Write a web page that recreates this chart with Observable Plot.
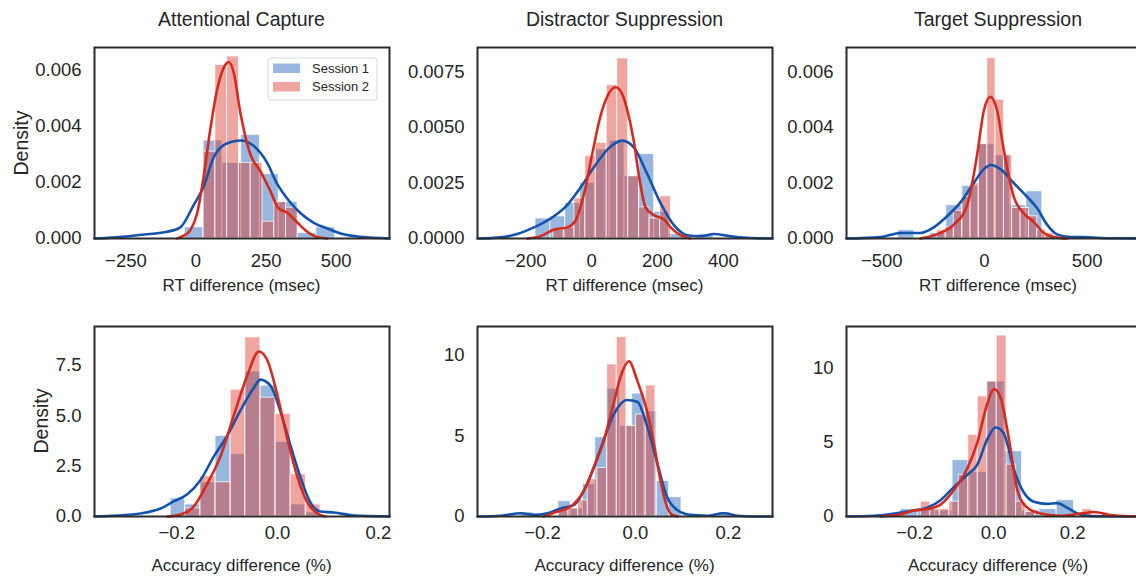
<!DOCTYPE html>
<html><head><meta charset="utf-8">
<script src="https://cdn.jsdelivr.net/npm/d3@7"></script>
<script src="https://cdn.jsdelivr.net/npm/@observablehq/plot@0.6"></script>
<style>
html,body{margin:0;padding:0;background:#fff;overflow:hidden;}
#root{position:relative;width:1136px;height:582px;overflow:hidden;font-family:"Liberation Sans",Arial,sans-serif;color:#262626;}
.pan{position:absolute;}
#ov{position:absolute;left:0;top:0;pointer-events:none;}
</style></head><body><div id="root"></div>
<script>
// ---------- text ----------
const titles = ["Attentional Capture", "Distractor Suppression", "Target Suppression"];
const xLabels = ["RT difference (msec)", "Accuracy difference (%)"];
const yLabel = "Density";
const seriesNames = ["Session 1", "Session 2"];

// ---------- Attentional Capture, RT ----------
const acRtS1Edges = [-40, 27, 94, 161, 228, 295, 362, 429, 496];
const acRtS1Dens = [0.0004, 0.0035, 0.0027, 0.0037, 0.0023, 0.0013, 0.0002, 0.0004];
const acRtS2Edges = [27, 69, 111, 153, 195, 237, 279, 321, 363];
const acRtS2Dens = [0.0031, 0.0062, 0.0065, 0.0027, 0.0027, 0.0006, 0.0013, 0.0011];
const acRtS1KdeX = [-362,-300,-240,-175,-104,-56,-8,27,63,111,158,206,254,289,325,373,420,468,515,587,690];
const acRtS1KdeY = [0,0.00003,0.00008,0.00015,0.00024,0.0004,0.0012,0.00185,0.0029,0.0034,0.0035,0.0033,0.0027,0.00196,0.00143,0.0009,0.00056,0.00036,0.00018,0.00006,0];
const acRtS2KdeX = [-68,-44,-20,4,27,51,75,99,117,135,158,194,230,265,295,325,361,396,432,468];
const acRtS2KdeY = [0,0.0001,0.0003,0.0009,0.0022,0.0039,0.0053,0.0061,0.0063,0.0059,0.0045,0.003,0.0024,0.0017,0.00107,0.00092,0.00057,0.00025,0.00005,0];

// ---------- Distractor Suppression, RT ----------
const dsRtS1Edges = [-170,-125,-80,-35,10,55,100,145,190,235,280,325,370];
const dsRtS1Dens = [0.0009,0.001,0.0016,0.0025,0.004,0.0044,0.0028,0.0038,0.0012,0.0002,0,0.0002];
const dsRtS2Edges = [-116,-84,-52,-19,13,46,78,111,144,176,208,241];
const dsRtS2Dens = [0.0004,0.0005,0.0018,0.0037,0.0043,0.0069,0.0081,0.0028,0.0014,0.0009,0.0019];
const dsRtS1KdeX = [-346,-276,-226,-175,-124,-74,-33,7,48,93,128,169,209,250,290,331,371,422,483,549];
const dsRtS1KdeY = [0,0.00005,0.0002,0.0005,0.0009,0.0015,0.0023,0.0032,0.004,0.0044,0.0041,0.0029,0.0016,0.0006,0.00015,0.0001,0.0002,0.0001,0.00002,0];
const dsRtS2KdeX = [-195,-155,-114,-74,-49,-23,2,27,48,73,93,108,128,144,164,189,220,240,270,300];
const dsRtS2KdeY = [0,0.0001,0.0004,0.0005,0.0008,0.002,0.0038,0.0055,0.0064,0.0068,0.0065,0.0058,0.0044,0.0028,0.0014,0.00105,0.00085,0.0005,0.00015,0];

// ---------- Target Suppression, RT ----------
const tsRtS1Edges = [-420,-342,-264,-186,-108,-30,48,126,204,282,360];
const tsRtS1Dens = [0.0003,0,0.0002,0.0012,0.0019,0.0034,0.003,0.0012,0.0017,0.0001];
const tsRtS2Edges = [-230,-189,-149,-108,-68,-27,14,54,95,135,176,217,257,298,338];
const tsRtS2Dens = [0.0003,0.0004,0.001,0.0015,0.002,0.0034,0.0065,0.005,0.003,0.0011,0.0011,0.0008,0.0003,0.0002];
const tsRtS1KdeX = [-672,-506,-409,-312,-247,-182,-117,-52,-3,32,78,143,208,256,305,354,419,484,565,809];
const tsRtS1KdeY = [0,0.00005,0.0002,0.0002,0.0004,0.0008,0.0013,0.002,0.0025,0.00265,0.0025,0.002,0.0015,0.0011,0.0005,0.00015,0.00005,0.00005,0.00002,0];
const tsRtS2KdeX = [-312,-214,-149,-84,-36,-3,29,62,94,143,192,240,289,338,403];
const tsRtS2KdeY = [0,0.0002,0.0005,0.0012,0.003,0.0046,0.0051,0.0046,0.0032,0.0015,0.0009,0.0006,0.0002,0.00005,0];

// ---------- Attentional Capture, accuracy ----------
const acAccS1Edges = [-0.212,-0.183,-0.153,-0.123,-0.093,-0.064,-0.034,-0.004,0.026,0.056,0.085];
const acAccS1Dens = [0.9,0.6,1.7,4.0,3.1,7.2,6.5,3.7,0.6,0.2];
const acAccS2Edges = [-0.183,-0.153,-0.123,-0.093,-0.064,-0.034,-0.004,0.026,0.056,0.085];
const acAccS2Dens = [0.4,2.0,1.7,6.3,8.9,5.9,5.1,2.1,0.6];
const acAccS1KdeX = [-0.363,-0.318,-0.272,-0.232,-0.206,-0.179,-0.153,-0.126,-0.1,-0.073,-0.047,-0.034,-0.014,0.006,0.026,0.046,0.065,0.085,0.112,0.151,0.222];
const acAccS1KdeY = [0,0.05,0.15,0.4,0.75,1.1,1.8,3.0,4.0,5.3,6.4,6.8,6.5,5.2,3.5,1.9,0.7,0.25,0.2,0.05,0];
const acAccS2KdeX = [-0.219,-0.192,-0.166,-0.14,-0.113,-0.087,-0.06,-0.037,-0.021,-0.001,0.019,0.039,0.059,0.079,0.095];
const acAccS2KdeY = [0,0.1,0.5,1.6,3.0,5.0,7.0,8.2,7.8,6.1,3.9,2.0,0.7,0.15,0];

// ---------- Distractor Suppression, accuracy ----------
const dsAccS1Edges = [-0.2455,-0.219,-0.1925,-0.166,-0.1395,-0.113,-0.0865,-0.06,-0.0335,-0.007,0.0195,0.046,0.0725,0.099,0.1255,0.152,0.1785,0.205];
const dsAccS1Dens = [0.25,0,0,0.95,0.5,2.0,4.9,7.9,5.6,7.6,6.5,2.2,1.2,0,0,0,0.25];
const dsAccS2Edges = [-0.165,-0.1442,-0.1234,-0.1026,-0.0818,-0.061,-0.0402,-0.0194,0.0014,0.0222,0.043];
const dsAccS2Dens = [0.5,0.5,1.0,2.3,3.0,9.4,11.1,5.6,6.3,8.1];
const dsAccS1KdeX = [-0.34,-0.29,-0.247,-0.219,-0.19,-0.161,-0.133,-0.104,-0.075,-0.047,-0.018,0.004,0.025,0.047,0.068,0.09,0.118,0.154,0.19,0.219,0.254,0.295];
const dsAccS1KdeY = [0,0.05,0.2,0.1,0.2,0.5,0.7,2.0,4.2,6.3,7.2,7.1,5.6,3.3,1.2,0.4,0.1,0.05,0.2,0.05,0,0];
const dsAccS2KdeX = [-0.197,-0.168,-0.14,-0.111,-0.09,-0.068,-0.047,-0.029,-0.014,0.004,0.025,0.039,0.054,0.068,0.079,0.09];
const dsAccS2KdeY = [0,0.3,0.6,1.6,3.0,4.7,7.0,8.9,9.6,8.4,6.5,4.6,2.2,0.6,0.1,0];

// ---------- Target Suppression, accuracy ----------
const tsAccS1Edges = [-0.2354,-0.1915,-0.1476,-0.1037,-0.0598,-0.0159,0.028,0.0719,0.1158,0.1597,0.2036];
const tsAccS1Dens = [0.5,0.5,0.4,3.8,3.0,9.1,4.4,0.4,0.5,1.1];
const tsAccS2Edges = [-0.184,-0.16,-0.136,-0.112,-0.088,-0.064,-0.04,-0.016,0.008,0.033,0.057,0.081,0.105,0.129,0.153,0.177,0.201,0.225,0.249];
const tsAccS2Dens = [1.0,0.5,0.5,1.0,2.8,5.5,8.1,9.1,12.2,3.5,1.0,0.3,0,0,0,0,0,0.5];
const tsAccS1KdeX = [-0.372,-0.303,-0.252,-0.202,-0.168,-0.134,-0.1,-0.067,-0.041,-0.016,0.005,0.026,0.051,0.077,0.102,0.136,0.161,0.186,0.212,0.237,0.271,0.354,0.397];
const tsAccS1KdeY = [0,0.05,0.2,0.4,0.6,1.1,2.0,2.8,3.5,5.2,6.0,5.6,3.2,1.6,1.0,0.85,0.9,0.6,0.2,0.05,0.02,0,0];
const tsAccS2KdeX = [-0.286,-0.235,-0.202,-0.168,-0.134,-0.1,-0.067,-0.041,-0.016,0.001,0.018,0.039,0.06,0.085,0.119,0.17,0.22,0.254,0.296,0.338,0.397];
const tsAccS2KdeY = [0,0.15,0.4,0.5,0.8,1.8,3.2,5.0,7.6,8.6,8.0,5.2,1.8,0.6,0.2,0.05,0.2,0.3,0.1,0.02,0];

// ---------- tick values ----------
const acRtXTicks = [-250, 0, 250, 500];
const dsRtXTicks = [-200, 0, 200, 400];
const tsRtXTicks = [-500, 0, 500];
const accXTicks = [-0.2, 0, 0.2];
const rtYTicksA = [0, 0.002, 0.004, 0.006];
const rtYTicksB = [0, 0.0025, 0.005, 0.0075];
const acAccYTicks = [0, 2.5, 5, 7.5];
const accYTicks = [0, 5, 10];

// ---------- style ----------
const blueFill = "#1a5fb8", redFill = "#dc3a2e";
const blueLine = "#1453ab", redLine = "#d42b1e";
const FONT = "'Liberation Sans', Arial, sans-serif";
const cols = [[94, 389], [477, 772], [846, 1150]];
const rows = [[47, 238], [326, 516]];
const ML = 92, MR = 2, MT = 2, MB = 45;

const bins = (edges, dens) => dens.map((d, i) => ({x1: edges[i], x2: edges[i + 1], y1: 0, y2: d}));
const kde = (xs, ys) => xs.map((x, i) => ({x, y: ys[i]}));

const panels = [
  {col:0,row:0,b1:bins(acRtS1Edges,acRtS1Dens),b2:bins(acRtS2Edges,acRtS2Dens),k1:kde(acRtS1KdeX,acRtS1KdeY),k2:kde(acRtS2KdeX,acRtS2KdeY),xd:[-362,690],yd:[0,0.00682],xt:acRtXTicks,yt:rtYTicksA,xf:d3.format("d"),yf:d3.format(".3f")},
  {col:1,row:0,b1:bins(dsRtS1Edges,dsRtS1Dens),b2:bins(dsRtS2Edges,dsRtS2Dens),k1:kde(dsRtS1KdeX,dsRtS1KdeY),k2:kde(dsRtS2KdeX,dsRtS2KdeY),xd:[-346,549],yd:[0,0.00859],xt:dsRtXTicks,yt:rtYTicksB,xf:d3.format("d"),yf:d3.format(".4f")},
  {col:2,row:0,b1:bins(tsRtS1Edges,tsRtS1Dens),b2:bins(tsRtS2Edges,tsRtS2Dens),k1:kde(tsRtS1KdeX,tsRtS1KdeY),k2:kde(tsRtS2KdeX,tsRtS2KdeY),xd:[-672,809],yd:[0,0.00688],xt:tsRtXTicks,yt:rtYTicksA,xf:d3.format("d"),yf:d3.format(".3f")},
  {col:0,row:1,b1:bins(acAccS1Edges,acAccS1Dens),b2:bins(acAccS2Edges,acAccS2Dens),k1:kde(acAccS1KdeX,acAccS1KdeY),k2:kde(acAccS2KdeX,acAccS2KdeY),xd:[-0.363,0.222],yd:[0,9.44],xt:accXTicks,yt:acAccYTicks,xf:d3.format(".1f"),yf:d3.format(".1f")},
  {col:1,row:1,b1:bins(dsAccS1Edges,dsAccS1Dens),b2:bins(dsAccS2Edges,dsAccS2Dens),k1:kde(dsAccS1KdeX,dsAccS1KdeY),k2:kde(dsAccS2KdeX,dsAccS2KdeY),xd:[-0.34,0.295],yd:[0,11.75],xt:accXTicks,yt:accYTicks,xf:d3.format(".1f"),yf:d3.format("d")},
  {col:2,row:1,b1:bins(tsAccS1Edges,tsAccS1Dens),b2:bins(tsAccS2Edges,tsAccS2Dens),k1:kde(tsAccS1KdeX,tsAccS1KdeY),k2:kde(tsAccS2KdeX,tsAccS2KdeY),xd:[-0.372,0.397],yd:[0,12.81],xt:accXTicks,yt:accYTicks,xf:d3.format(".1f"),yf:d3.format("d")}
];

const root = document.getElementById("root");
for (const p of panels) {
  const [fx0, fx1] = cols[p.col], [fy0, fy1] = rows[p.row];
  const width = fx1 - fx0 + ML + MR, height = fy1 - fy0 + MT + MB;
  const chart = Plot.plot({
    width, height, marginLeft: ML, marginRight: MR, marginTop: MT, marginBottom: MB,
    style: {background: "transparent", fontSize: "18.5px", fontFamily: FONT, color: "#262626", overflow: "visible", maxWidth: "none"},
    x: {domain: p.xd, ticks: p.xt, tickFormat: p.xf, tickSize: 0, tickPadding: p.row === 0 ? 15 : 9, label: null},
    y: {domain: p.yd, ticks: p.yt, tickFormat: p.yf, tickSize: 0, tickPadding: 13, label: null},
    marks: [
      Plot.rect(p.b1, {x1: "x1", x2: "x2", y1: "y1", y2: "y2", fill: blueFill, fillOpacity: 0.45, stroke: "white", strokeWidth: 1, strokeOpacity: 0.75}),
      Plot.rect(p.b2, {x1: "x1", x2: "x2", y1: "y1", y2: "y2", fill: redFill, fillOpacity: 0.45, stroke: "white", strokeWidth: 1, strokeOpacity: 0.75}),
      Plot.line(p.k1, {x: "x", y: "y", stroke: blueLine, strokeWidth: 2.6, curve: "monotone-x"}),
      Plot.line(p.k2, {x: "x", y: "y", stroke: redLine, strokeWidth: 2.6, curve: "monotone-x"}),
      Plot.frame({stroke: "#2b2b2b", strokeWidth: 2})
    ]
  });
  const div = document.createElement("div");
  div.className = "pan";
  div.style.left = (fx0 - ML) + "px";
  div.style.top = (fy0 - MT) + "px";
  div.style.width = width + "px";
  div.appendChild(chart);
  root.appendChild(div);
}

// ---------- titles, axis labels, legend ----------
const ov = d3.select(root).append("svg").attr("id", "ov").attr("width", 1136).attr("height", 582)
  .style("font-family", FONT).attr("fill", "#262626");
const colCenters = cols.map(([a, b]) => (a + b) / 2);
titles.forEach((t, i) => ov.append("text").attr("x", colCenters[i]).attr("y", 26).attr("text-anchor", "middle").attr("font-size", 19.5).text(t));
colCenters.forEach(cx => {
  ov.append("text").attr("x", cx).attr("y", 291).attr("text-anchor", "middle").attr("font-size", 17).text(xLabels[0]);
  ov.append("text").attr("x", cx).attr("y", 571).attr("text-anchor", "middle").attr("font-size", 17).text(xLabels[1]);
});
ov.append("text").attr("transform", "translate(27.5,143) rotate(-90)").attr("text-anchor", "middle").attr("font-size", 19.5).text(yLabel);
ov.append("text").attr("transform", "translate(47.5,421) rotate(-90)").attr("text-anchor", "middle").attr("font-size", 19.5).text(yLabel);

const lg = ov.append("g");
lg.append("rect").attr("x", 268).attr("y", 58).attr("width", 109).attr("height", 42).attr("rx", 3)
  .attr("fill", "white").attr("fill-opacity", 0.85).attr("stroke", "#d8d8d8").attr("stroke-width", 1);
[[blueFill, 63.5, 72.8], [redFill, 82, 91.3]].forEach(([c, y, by], i) => {
  lg.append("rect").attr("x", 273).attr("y", y).attr("width", 27).attr("height", 9.5).attr("fill", c).attr("fill-opacity", 0.45);
  lg.append("text").attr("x", 312).attr("y", by).attr("font-size", 13).text(seriesNames[i]);
});
</script></body></html>
